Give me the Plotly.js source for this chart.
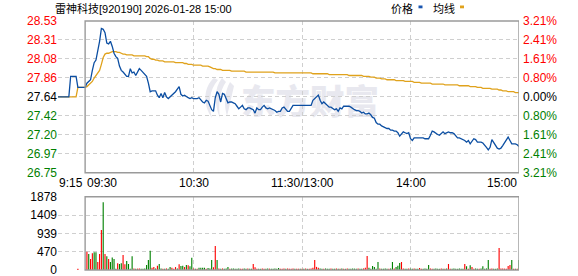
<!DOCTYPE html>
<html><head><meta charset="utf-8">
<script src="https://cdn.plot.ly/plotly-3.0.1.min.js"></script>
<style>html,body{margin:0;padding:0;background:#fff;}#chart{width:578px;height:276px;}</style>
</head><body><div id="chart"></div>
<script>
// ---------- data ----------
const stockName = '雷神科技';
const stockCode = '920190';
const stamp = '2026-01-28 15:00';
const prevClose = 27.64;
const maxPct = 3.21;
const priceTickLabels = ['28.53','28.31','28.08','27.86','27.64','27.42','27.20','26.97','26.75'];
const pctTickLabels = ['3.21%','2.41%','1.61%','0.80%','0.00%','0.80%','1.61%','2.41%','3.21%'];
const volTickVals = [0, 470, 939, 1409, 1878];
const volTickLabels = ['0', '470', '939', '1409', '1878'];
const timeLabels = ['9:15', '09:30', '10:30', '11:30/13:00', '14:00', '15:00'];
const timeLabelMinutes = [-15, 0, 60, 120, 180, 240];
const legendNames = ['价格', '均线'];

// call auction 9:15 - 9:29
const prePrice = [27.64,27.64,27.64,27.64,27.64,27.64,27.64,27.88,27.88,27.88,27.88,27.75,27.75,27.75,27.75];
const preAvg   = [27.64,27.64,27.64,27.64,27.64,27.64,27.64,27.64,27.64,27.64,27.64,27.75,27.75,27.75,27.75];
const preVol   = [0,0,0,0,0,0,0,0,0,0,0,30,0,0,0];
const preUp    = [1,1,1,1,1,1,1,1,1,1,1,1,1,1,1];

// trading minutes 9:30 ... 11:30/13:00 ... 15:00
const price = [
27.75,27.80,27.82,27.84,27.95,28.04,28.07,28.17,28.29,28.44,
28.43,28.39,28.27,28.26,28.29,28.23,28.15,28.11,28.09,28.00,
27.95,27.93,27.91,27.88,27.88,27.97,27.92,27.93,27.89,27.94,
27.97,27.95,27.93,27.91,27.88,27.80,27.70,27.71,27.71,27.71,
27.66,27.63,27.68,27.63,27.69,27.64,27.62,27.64,27.65,27.67,
27.70,27.73,27.76,27.67,27.65,27.66,27.64,27.63,27.62,27.63,
27.62,27.62,27.62,27.63,27.60,27.58,27.57,27.60,27.59,27.53,
27.49,27.47,27.63,27.70,27.67,27.58,27.68,27.67,27.62,27.57,
27.58,27.58,27.57,27.56,27.53,27.50,27.52,27.54,27.50,27.49,
27.51,27.51,27.50,27.49,27.45,27.51,27.49,27.49,27.52,27.54,
27.51,27.50,27.51,27.50,27.49,27.48,27.46,27.47,27.47,27.51,
27.52,27.49,27.47,27.47,27.51,27.54,27.54,27.54,27.54,27.54,
27.54,27.54,27.54,27.54,27.54,27.54,27.60,27.62,27.65,27.66,
27.60,27.56,27.58,27.56,27.54,27.52,27.52,27.50,27.49,27.50,
27.47,27.51,27.50,27.53,27.53,27.53,27.53,27.52,27.50,27.49,
27.48,27.48,27.47,27.45,27.46,27.44,27.44,27.45,27.43,27.40,
27.39,27.34,27.32,27.32,27.30,27.29,27.28,27.27,27.27,27.25,
27.25,27.24,27.24,27.22,27.18,27.20,27.23,27.22,27.21,27.22,
27.15,27.13,27.16,27.16,27.16,27.16,27.16,27.16,27.15,27.15,
27.15,27.19,27.24,27.23,27.21,27.20,27.19,27.21,27.23,27.21,
27.22,27.23,27.22,27.22,27.21,27.19,27.16,27.16,27.15,27.14,
27.13,27.11,27.13,27.09,27.12,27.15,27.14,27.11,27.11,27.11,
27.10,27.08,27.05,27.02,27.05,27.14,27.11,27.08,27.04,27.03,
27.04,27.07,27.10,27.13,27.17,27.13,27.09,27.09,27.09,27.08,
27.06];

const avgPrice = [
27.75,27.76,27.78,27.80,27.82,27.86,27.89,27.92,27.95,28.02,
28.10,28.14,28.15,28.15,28.16,28.17,28.17,28.17,28.16,28.16,
28.15,28.14,28.14,28.13,28.13,28.13,28.13,28.12,28.12,28.12,
28.12,28.12,28.12,28.12,28.11,28.11,28.09,28.08,28.08,28.07,
28.07,28.06,28.06,28.06,28.05,28.05,28.05,28.05,28.05,28.05,
28.04,28.04,28.04,28.04,28.04,28.03,28.03,28.02,28.02,28.02,
28.01,28.01,28.01,28.01,28.01,28.00,28.00,28.00,28.00,27.99,
27.98,27.97,27.97,27.96,27.96,27.96,27.95,27.95,27.95,27.95,
27.95,27.94,27.94,27.94,27.94,27.94,27.94,27.94,27.94,27.93,
27.93,27.93,27.93,27.93,27.93,27.93,27.93,27.93,27.93,27.93,
27.93,27.93,27.93,27.93,27.93,27.92,27.92,27.92,27.92,27.92,
27.92,27.92,27.92,27.92,27.92,27.92,27.92,27.92,27.92,27.92,
27.92,27.92,27.92,27.92,27.92,27.92,27.91,27.91,27.91,27.91,
27.91,27.91,27.91,27.91,27.91,27.90,27.90,27.90,27.90,27.90,
27.90,27.90,27.90,27.90,27.90,27.90,27.89,27.89,27.89,27.89,
27.89,27.89,27.89,27.89,27.88,27.88,27.88,27.88,27.87,27.87,
27.87,27.86,27.86,27.86,27.85,27.85,27.85,27.84,27.84,27.84,
27.84,27.84,27.83,27.83,27.83,27.83,27.83,27.82,27.82,27.82,
27.82,27.82,27.81,27.81,27.81,27.81,27.80,27.80,27.80,27.80,
27.80,27.80,27.79,27.79,27.79,27.79,27.79,27.79,27.79,27.78,
27.78,27.78,27.78,27.78,27.78,27.78,27.78,27.77,27.77,27.77,
27.77,27.77,27.77,27.76,27.76,27.76,27.76,27.75,27.75,27.75,
27.74,27.74,27.74,27.74,27.74,27.73,27.73,27.73,27.73,27.72,
27.72,27.71,27.71,27.71,27.70,27.70,27.70,27.70,27.69,27.69,
27.69];

const volume = [
0,470,410,282,427,453,453,205,410,1024,
1734,410,350,282,205,320,282,30,171,154,
171,384,145,230,154,30,350,40,30,35,
40,30,35,40,128,256,495,60,80,40,
110,154,40,35,30,40,35,75,60,30,
75,40,145,100,110,75,128,120,94,316,
40,35,30,60,60,55,60,30,50,40,
256,70,615,256,40,35,40,30,40,75,
30,35,40,30,35,40,30,35,40,30,
40,35,30,154,70,30,35,30,40,35,
30,40,35,30,35,40,30,50,35,30,
40,35,40,30,35,40,30,35,30,35,
30,35,40,30,35,40,60,256,80,60,
40,35,30,40,35,30,40,35,30,40,
35,30,40,35,30,40,35,30,40,35,
30,40,35,30,40,60,359,60,30,100,
80,35,205,40,35,30,40,35,30,40,
205,40,80,110,180,205,40,35,30,40,
35,30,40,35,30,50,35,30,40,35,
128,40,35,30,40,35,30,40,35,30,
40,154,35,30,40,35,30,40,35,30,
154,94,35,120,75,30,40,35,30,40,
94,35,40,256,30,40,35,30,40,563,
40,40,35,30,102,128,256,30,35,35,
256];

const volUp = [
1,1,0,1,1,0,0,1,1,1,
0,1,0,1,0,0,0,0,1,0,
0,1,1,0,0,0,0,1,0,1,
1,0,0,0,0,0,0,1,1,0,
1,0,0,1,0,1,0,0,1,1,
1,0,1,0,0,1,0,1,0,0,
1,0,1,0,0,0,0,1,0,0,
0,1,1,0,1,0,1,0,0,0,
1,0,0,0,0,0,1,1,0,0,
1,0,0,1,1,1,0,0,1,1,
0,0,1,0,0,0,0,0,1,1,
1,0,1,1,1,1,0,1,1,0,
1,0,1,0,1,1,1,1,1,1,
0,0,1,0,0,0,1,0,0,1,
0,1,0,1,0,1,0,0,0,0,
0,1,0,0,1,1,1,0,0,0,
0,0,0,1,0,0,0,0,1,0,
0,1,0,0,0,1,1,0,0,1,
0,0,1,0,0,1,1,0,0,0,
0,1,1,0,0,0,0,1,0,1,
0,1,1,0,0,0,0,0,0,0,
1,0,1,0,1,1,0,0,1,0,
0,0,0,0,1,1,0,0,0,1,
1,1,1,1,1,1,0,1,0,1,
0];

// ---------- styling ----------
const C_PRICE = '#0b4ea2', C_AVG = '#e0a21c';
const C_UP = '#ff0000', C_DOWN = '#008000', C_FLAT = '#000000';
const C_GRID = '#cfcfcf', C_BOX = '#9a9a9a';
const FONT = 'Liberation Sans, Arial, Noto Sans CJK SC, sans-serif';
const CJK = 'Liberation Sans, Noto Sans CJK SC, sans-serif';

const L = 58, R = 519, T = 21, B = 270;
const px2x = x => (x - L) / (R - L);
const px2y = y => (B - y) / (B - T);

const preX = preAvg.map((_, i) => i - preAvg.length);
const mainX = price.map((_, i) => i);
const allX = preX.concat(mainX);

const step = maxPct / 100 / 4;
const priceTickVals = priceTickLabels.map((_, i) => prevClose * (1 + (4 - i) * step));
const lo = prevClose * (1 - maxPct / 100), hi = prevClose * (1 + maxPct / 100);
const colorFor = i => (i < 4 ? C_UP : (i === 4 ? C_FLAT : C_DOWN));
const leftText = priceTickLabels.map((t, i) => `<span style="color:${colorFor(i)}">${t}</span>`);
const rightText = pctTickLabels.map((t, i) => `<span style="color:${colorFor(i)}">${t}</span>`);

const allVol = preVol.concat(volume);
const allUp = preUp.concat(volUp);
const volMax = volTickVals[volTickVals.length - 1];

const traces = [
  { x: allX, y: preAvg.concat(avgPrice), type: 'scatter', mode: 'lines', xaxis: 'x', yaxis: 'y',
    line: { color: C_AVG, width: 1.3 }, hoverinfo: 'skip' },
  { x: allX, y: prePrice.concat(price), type: 'scatter', mode: 'lines', xaxis: 'x', yaxis: 'y2',
    line: { color: C_PRICE, width: 1.3 }, hoverinfo: 'skip' },
  { x: allX, y: allVol, type: 'bar', xaxis: 'x2', yaxis: 'y3', width: 0.62,
    marker: { color: allUp.map(u => u ? C_UP : C_DOWN), line: { width: 0 } }, hoverinfo: 'skip' }
];

const gridAxis = {
  range: [-15, 240], tickvals: [60, 120, 180], showticklabels: false, ticks: '',
  showgrid: true, gridcolor: C_GRID, gridwidth: 1, griddash: '4px,3px', zeroline: false,
  showline: false, fixedrange: true
};

// watermark svg
const wmW = 200, wmH = 48;
const wmSvg = `<svg xmlns="http://www.w3.org/2000/svg" width="${wmW}" height="${wmH}" viewBox="0 0 ${wmW} ${wmH}">
<g fill="#e8e8ef">
<path d="M18 4 C8 12 6 30 16 44 C12 30 13 16 22 6 Z"/>
<path d="M26 4 C18 14 18 30 24 44 C22 30 24 16 30 8 Z"/>
<path d="M34 8 C28 18 28 32 31 42 C34 30 36 20 38 12 Z"/>
</g>
<text x="45" y="40" font-family="Noto Sans CJK SC" font-weight="900" font-size="34" textLength="138" lengthAdjust="spacingAndGlyphs" fill="#e8e8ef">东方财富</text>
</svg>`;
const wmUri = 'data:image/svg+xml;charset=utf-8,' + encodeURIComponent(wmSvg);

const annotations = [
  { text: `${stockName}[${stockCode}] ${stamp}`, xref: 'paper', yref: 'paper', x: px2x(53), y: px2y(8.5),
    xanchor: 'left', yanchor: 'middle', showarrow: false, font: { family: CJK, size: 11, color: '#000' } },
  { text: legendNames[0], xref: 'paper', yref: 'paper', x: px2x(389), y: px2y(8.5),
    xanchor: 'left', yanchor: 'middle', showarrow: false, font: { family: CJK, size: 11, color: '#000' } },
  { text: legendNames[1], xref: 'paper', yref: 'paper', x: px2x(431), y: px2y(8.5),
    xanchor: 'left', yanchor: 'middle', showarrow: false, font: { family: CJK, size: 11, color: '#000' } }
];
timeLabels.forEach((t, i) => {
  const m = timeLabelMinutes[i];
  annotations.push({ text: t, xref: 'x', yref: 'paper', x: m, y: px2y(183),
    xanchor: i <= 1 ? 'left' : (i === timeLabels.length - 1 ? 'right' : 'center'),
    yanchor: 'middle', showarrow: false, xshift: i === 0 ? -1 : 0,
    font: { family: FONT, size: 12, color: '#000' } });
});

const shapes = [
  { type: 'rect', xref: 'x', yref: 'y domain', x0: 0, x1: 240, y0: 0, y1: 1,
    line: { color: C_BOX, width: 1.4 }, layer: 'above' },
  { type: 'rect', xref: 'x2', yref: 'y3 domain', x0: 0, x1: 240, y0: 0, y1: 1,
    line: { color: C_BOX, width: 1.4 }, layer: 'above' },
  { type: 'rect', xref: 'paper', yref: 'paper', x0: px2x(418.5), x1: px2x(422.5), y0: px2y(8.3), y1: px2y(5.5),
    fillcolor: '#1a56b0', line: { width: 0 } },
  { type: 'rect', xref: 'paper', yref: 'paper', x0: px2x(460), x1: px2x(464), y0: px2y(8.3), y1: px2y(5.5),
    fillcolor: C_AVG, line: { width: 0 } }
];

const layout = {
  width: 578, height: 276,
  margin: { l: L, r: 578 - R, t: T, b: 276 - B, pad: 0 },
  paper_bgcolor: '#ffffff', plot_bgcolor: 'rgba(0,0,0,0)',
  showlegend: false,
  xaxis: Object.assign({}, gridAxis, { anchor: 'y', domain: [0, 1] }),
  xaxis2: Object.assign({}, gridAxis, { anchor: 'y3', domain: [0, 1] }),
  yaxis: { domain: [px2y(172.7), 1], range: [lo, hi], tickvals: priceTickVals, ticktext: leftText,
    showgrid: true, gridcolor: C_GRID, griddash: '4px,3px', zeroline: false, showline: false, ticks: '',
    tickfont: { family: FONT, size: 12 }, fixedrange: true, ticklabelstandoff: 0, ticklabeloverflow: 'allow' },
  yaxis2: { overlaying: 'y', side: 'right', anchor: 'x', range: [lo, hi], tickvals: priceTickVals, ticktext: rightText,
    showgrid: false, zeroline: false, showline: false, ticks: '',
    tickfont: { family: FONT, size: 12 }, fixedrange: true, ticklabelstandoff: 3, ticklabeloverflow: 'allow' },
  yaxis3: { domain: [0, px2y(196.7)], anchor: 'x2', range: [0, volMax], tickvals: volTickVals, ticktext: volTickLabels,
    showgrid: true, gridcolor: C_GRID, griddash: '4px,3px', zeroline: false, showline: false, ticks: '',
    tickfont: { family: FONT, size: 12, color: '#000' }, fixedrange: true, ticklabelstandoff: 0, ticklabeloverflow: 'allow' },
  annotations: annotations,
  shapes: shapes,
  images: [{ source: wmUri, xref: 'paper', yref: 'paper', x: px2x(196), y: px2y(74),
    sizex: wmW / (R - L), sizey: wmH / (B - T), xanchor: 'left', yanchor: 'top', sizing: 'stretch', layer: 'below' }]
};

Plotly.newPlot('chart', traces, layout, { staticPlot: true, displayModeBar: false });
</script>
</body></html>
